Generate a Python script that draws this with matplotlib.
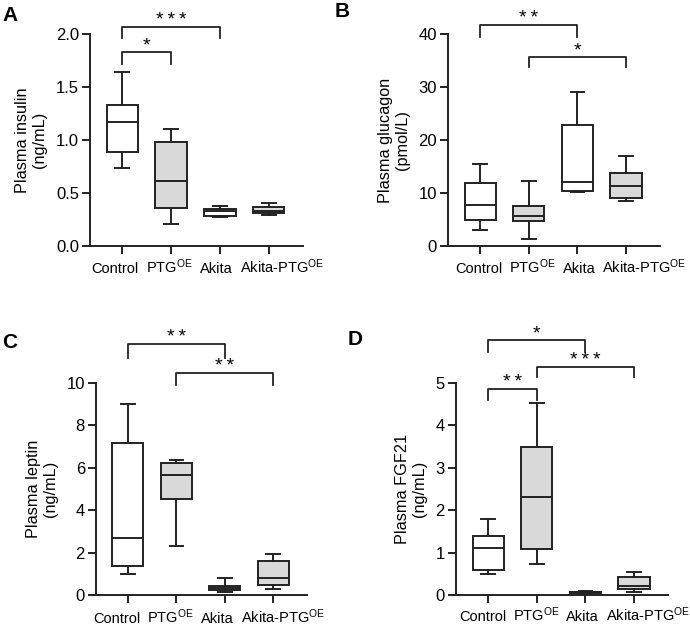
import matplotlib
matplotlib.use("Agg")
import matplotlib.pyplot as plt
import matplotlib.transforms as mtransforms

plt.rcParams['font.family'] = ['Liberation Sans', 'DejaVu Sans']
plt.rcParams['mathtext.fontset'] = 'custom'
plt.rcParams['mathtext.rm'] = 'Liberation Sans'
plt.rcParams['mathtext.default'] = 'rm'

groups = ['Control', 'PTG$^{OE}$', 'Akita', 'Akita-PTG$^{OE}$']
fills = ['white', '#d9d9d9', 'white', '#d9d9d9']

# each box: whisker low, q1, median, q3, whisker high
insulin = [[0.74, 0.89, 1.17, 1.33, 1.64],
           [0.21, 0.36, 0.61, 0.98, 1.10],
           [0.27, 0.28, 0.33, 0.35, 0.38],
           [0.29, 0.31, 0.33, 0.37, 0.41]]
glucagon = [[3.0, 5.0, 7.8, 11.8, 15.5],
            [1.3, 4.8, 5.6, 7.6, 12.2],
            [10.1, 10.4, 12.0, 22.8, 29.1],
            [8.4, 9.1, 11.3, 13.8, 17.0]]
leptin = [[1.0, 1.35, 2.7, 7.15, 9.0],
          [2.3, 4.55, 5.65, 6.25, 6.35],
          [0.15, 0.25, 0.35, 0.42, 0.78],
          [0.3, 0.48, 0.8, 1.6, 1.95]]
fgf21 = [[0.5, 0.6, 1.12, 1.38, 1.8],
         [0.72, 1.08, 2.3, 3.48, 4.52],
         [0.04, 0.05, 0.06, 0.08, 0.1],
         [0.06, 0.15, 0.22, 0.42, 0.55]]

# significance: (i, j, bracket top, leg bottom, number of stars)
sig_a = [(0, 1, 1.83, 1.72, 1), (0, 2, 2.07, 1.96, 3)]
sig_b = [(0, 2, 41.7, 39.4, 2), (1, 3, 35.7, 33.8, 1)]
sig_c = [(0, 2, 11.84, 11.2, 2), (1, 3, 10.47, 9.9, 2)]
sig_d = [(0, 2, 6.01, 5.73, 1), (1, 3, 5.38, 5.14, 3), (0, 1, 4.86, 4.6, 2)]

# axes box in pixels (left, right, bottom, top), letter position, x label nudges (px), label baseline (px)
panels = [
    ('A', insulin, sig_a, 'Plasma insulin\n(ng/mL)', [0, 0.5, 1.0, 1.5, 2.0], ['0.0', '0.5', '1.0', '1.5', '2.0'],
     [90, 303, 246, 34], (2, 6), [-7.5, -2, -3.5, 13], 27),
    ('B', glucagon, sig_b, 'Plasma glucagon\n(pmol/L)', [0, 10, 20, 30, 40], ['0', '10', '20', '30', '40'],
     [448, 660, 246, 34], (335, 2), [-1, 3.5, 2.5, 18.5], 27),
    ('C', leptin, sig_c, 'Plasma leptin\n(ng/mL)', [0, 2, 4, 6, 8, 10], ['0', '2', '4', '6', '8', '10'],
     [96, 307, 595, 383], (2, 333), [-11.5, -6, -7, 10], 28),
    ('D', fgf21, sig_d, 'Plasma FGF21\n(ng/mL)', [0, 1, 2, 3, 4, 5], ['0', '1', '2', '3', '4', '5'],
     [456, 668, 595, 383], (348, 330), [-5.5, 0, -3, 14.5], 26),
]

W, H = 690, 629
fig = plt.figure(figsize=(W / 100, H / 100), dpi=100)
lc = '#222222'

for letter, data, sigs, ylabel, yticks, yticklabels, box, lpos, nudges, base in panels:
    x0, x1, yb, yt = box
    ax = fig.add_axes([x0 / W, (H - yb) / H, (x1 - x0) / W, (yb - yt) / H])
    stats = []
    for d in data:
        stats.append({'whislo': d[0], 'q1': d[1], 'med': d[2], 'q3': d[3], 'whishi': d[4], 'fliers': []})
    bp = ax.bxp(stats, positions=range(4), widths=0.64, patch_artist=True, showfliers=False,
                boxprops=dict(linewidth=1.4, edgecolor=lc),
                whiskerprops=dict(linewidth=1.4, color=lc),
                capprops=dict(linewidth=1.4, color=lc),
                medianprops=dict(linewidth=1.4, color=lc), capwidths=0.28)
    for patch, c in zip(bp['boxes'], fills):
        patch.set_facecolor(c)

    ax.set_xlim(-0.66, 3.7)
    ax.set_ylim(yticks[0], yticks[-1])
    ax.set_yticks(yticks)
    ax.set_yticklabels(yticklabels)
    ax.set_xticks(range(4))
    ax.set_xticklabels([])
    ax.spines['top'].set_visible(False)
    ax.spines['right'].set_visible(False)
    for s in ['left', 'bottom']:
        ax.spines[s].set_linewidth(1.4)
        ax.spines[s].set_color(lc)
    ax.tick_params(axis='both', width=1.4, length=6, color=lc, direction='out')
    ax.tick_params(axis='y', labelsize=12, pad=2)
    ax.set_ylabel(ylabel, fontsize=11.7, labelpad=6)

    # category labels, nudged like the original layout
    for k, (g, dx) in enumerate(zip(groups, nudges)):
        tr = ax.get_xaxis_transform() + mtransforms.ScaledTranslation(dx / 100, -base / 100, fig.dpi_scale_trans)
        ax.text(k, 0, g, transform=tr, ha='center', va='baseline', fontsize=10.5, clip_on=False)

    for i, j, top, leg, n in sigs:
        ax.plot([i, i, j, j], [leg, top, top, leg], color=lc, lw=1.3, clip_on=False)
        ax.text((i + j) / 2, top + (yticks[-1] - yticks[0]) * 0.008, '\u2009'.join(['*'] * n),
                ha='center', va='baseline', fontsize=14, clip_on=False)

    fig.text(lpos[0] / W, 1 - lpos[1] / H, letter, fontsize=15, fontweight='bold', ha='left', va='top')

fig.savefig('out.png', dpi=100)
